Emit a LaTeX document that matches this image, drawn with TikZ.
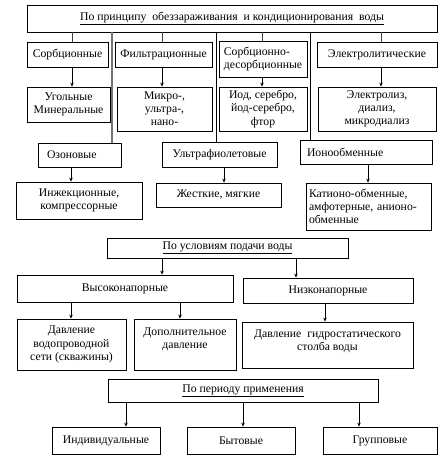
\documentclass[tikz,border=0pt]{standalone}
\usepackage{fontspec}
\setmainfont{Liberation Serif}
\usetikzlibrary{arrows.meta}
\begin{document}
\begin{tikzpicture}[x=1pt,y=-1pt,
  box/.style={draw=black,line width=0.8pt,inner sep=2pt,align=center,font=\fontsize{11.7}{13.2}\selectfont},
  lbox/.style={box,align=left},
  ln/.style={draw=black!75,line width=0.8pt},
  thk/.style={draw=black!55,line width=1.8pt},
  arr/.style={draw=black,line width=0.8pt,-{Stealth[length=4pt,width=3.5pt]}}]
\useasboundingbox (0,0) rectangle (443,462);
% row 1
\node[box,minimum width=410,minimum height=27] (top) at (232,18.5) {\underline{По принципу\ \ обеззараживания\ \ и кондиционирования\ \ воды}};
% row 2
\node[box,minimum width=81,minimum height=25] (sorb) at (67.5,54.5) {Сорбционные};
\node[box,minimum width=97,minimum height=25] (filt) at (163.5,54.5) {Фильтрационные};
\node[lbox,minimum width=88,minimum height=36] (sdes) at (263,59) {Сорбционно-\\десорбционные};
\node[box,minimum width=120,minimum height=25] (elec) at (377,54.5) {Электролитические};
% row 3
\node[box,minimum width=83,minimum height=35] (ugol) at (68.5,104.5) {Угольные\\Минеральные};
\node[box,minimum width=95,minimum height=44] (mikro) at (164.5,109) {Микро-,\\ультра-,\\нано-};
\node[box,minimum width=88,minimum height=44] (iod) at (263,109) {Иод, серебро,\\йод-серебро,\\фтор};
\node[box,minimum width=118,minimum height=44] (elz) at (377,109) {Электролиз,\\диализ,\\микродиализ};
% row 4
\node[box,minimum width=83,minimum height=24,text width=75,align=left] (ozon) at (79.5,155) {\hspace*{5pt}Озоновые};
\node[box,minimum width=115,minimum height=25] (uv) at (219.5,154.5) {Ультрафиолетовые};
\node[box,minimum width=132,minimum height=24,text width=124,align=left] (iono) at (366,152) {\hspace*{3pt}Ионообменные};
% row 5
\node[box,minimum width=126,minimum height=37] (inzh) at (79,200.5) {Инжекционные,\\компрессорные};
\node[box,minimum width=125,minimum height=24] (zhes) at (218.5,195) {Жесткие, мягкие};
\node[box,minimum width=125,minimum height=47,text width=119,align=left] (kat) at (368.5,206.5) {Катионо-обменные,\\амфотерные, анионо-\\обменные};
% block 2
\node[box,minimum width=241,minimum height=20] (usl) at (227.5,248) {\underline{По условиям подачи воды}};
\node[box,minimum width=216,minimum height=27] (vys) at (125,288.5) {Высоконапорные};
\node[box,minimum width=170,minimum height=25] (niz) at (328,290.5) {Низконапорные};
\node[box,minimum width=109,minimum height=51] (dav) at (71.5,344.5) {Давление\\водопроводной\\сети (скважины)};
\node[box,minimum width=102,minimum height=51] (dop) at (185,344.5) {Дополнительное\\давление\\\mbox{}};
\node[box,minimum width=171,minimum height=46] (gid) at (327.5,345) {Давление\ \ гидростатического\\столба воды\\[-4pt]\mbox{}};
% block 3
\node[box,minimum width=270,minimum height=23] (per) at (243,390.5) {\underline{По периоду применения}};
\node[box,minimum width=108,minimum height=27] (ind) at (106,440.5) {Индивидуальные};
\node[box,minimum width=108,minimum height=27] (byt) at (241,440.5) {Бытовые};
\node[box,minimum width=114,minimum height=27] (gru) at (380,440.5) {Групповые};
% connectors row1 -> row2
\draw[ln] (top.south -| 72,0) -- (sorb.north -| 72,0);
\draw[ln] (top.south -| 162,0) -- (filt.north -| 162,0);
\draw[ln] (top.south -| 262,0) -- (sdes.north -| 262,0);
\draw[ln] (top.south -| 381,0) -- (elec.north -| 381,0);
% long lines
\draw[thk] (top.south -| 112,0) -- (ozon.north -| 112,0);
\draw[ln,draw=black] (top.south -| 216,0) -- (uv.north -| 216,0);
\draw[ln,draw=black] (top.south -| 310,0) -- (iono.north -| 310,0);
% arrows
\draw[arr] (sorb.south -| 72,0) -- (ugol.north -| 72,0);
\draw[arr] (filt.south -| 162,0) -- (mikro.north -| 162,0);
\draw[arr] (sdes.south -| 262,0) -- (iod.north -| 262,0);
\draw[arr] (elec.south -| 381,0) -- (elz.north -| 381,0);
\draw[arr] (ozon.south -| 71,0) -- (inzh.north -| 71,0);
\draw[arr] (uv.south -| 224,0) -- (zhes.north -| 224,0);
\draw[arr] (iono.south -| 368,0) -- (kat.north -| 368,0);
\draw[arr] (usl.south -| 162,0) -- (vys.north -| 162,0);
\draw[arr] (usl.south -| 296,0) -- (niz.north -| 296,0);
\draw[arr] (vys.south -| 71,0) -- (dav.north -| 71,0);
\draw[arr] (vys.south -| 180,0) -- (dop.north -| 180,0);
\draw[arr] (niz.south -| 325,0) -- (gid.north -| 325,0);
\draw[arr] (per.south -| 126,0) -- (ind.north -| 126,0);
\draw[arr] (per.south -| 243,0) -- (byt.north -| 243,0);
\draw[arr] (per.south -| 359,0) -- (gru.north -| 359,0);
\end{tikzpicture}
\end{document}
